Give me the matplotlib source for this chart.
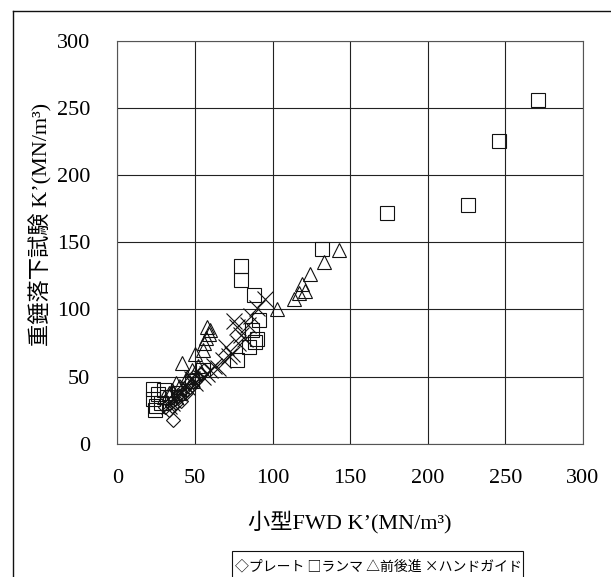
import matplotlib
matplotlib.use("Agg")
import matplotlib.pyplot as plt
from matplotlib.lines import Line2D
from matplotlib.patches import Rectangle

# data (MN/m3)
plate_x = [36, 33, 31, 35, 38, 37, 34, 40, 41, 42, 39, 44, 43, 45, 46, 47, 48, 49, 50, 52, 54, 56]
plate_y = [18, 25, 27, 28, 30, 33, 30, 35, 32, 37, 36, 38, 41, 40, 45, 42, 44, 50, 47, 49, 52, 55]

rammer_x = [24, 23, 23, 25, 26, 30, 32, 28, 40, 48, 55, 77, 85, 90, 87, 89, 91, 88, 80, 80, 132, 174, 226, 246, 271]
rammer_y = [25, 33, 41, 28, 37, 40, 35, 30, 38, 47, 55, 62, 72, 78, 85, 76, 92, 111, 122, 132, 145, 172, 178, 225, 256]

fwd_x = [30, 33, 35, 38, 40, 42, 45, 48, 50, 52, 55, 56, 57, 58, 60, 59, 103, 114, 117, 121, 119, 124, 133, 143]
fwd_y = [35, 38, 40, 45, 42, 60, 50, 55, 67, 58, 70, 75, 79, 87, 85, 82, 100, 108, 112, 114, 119, 126, 135, 144]

hand_x = [33, 35, 38, 40, 45, 48, 50, 55, 58, 60, 62, 65, 68, 70, 72, 74, 78, 80, 82, 75, 77, 84, 86, 90, 95]
hand_y = [28, 30, 35, 38, 42, 48, 45, 50, 52, 55, 58, 56, 62, 72, 65, 67, 75, 81, 78, 91, 87, 88, 95, 101, 108]

ticks = [0, 50, 100, 150, 200, 250, 300]

W, H = 611, 577
plt.rcParams["font.family"] = ["Liberation Serif", "Noto Sans CJK JP"]

fig = plt.figure(figsize=(W / 100, H / 100), dpi=100)
ax = fig.add_axes([117.3 / W, 1 - 443.7 / H, (583 - 117.3) / W, (443.7 - 40.7) / H])

mk = dict(linestyle="none", mfc="none", mec="#111111", mew=0.8)
ax.plot(plate_x, plate_y, marker="D", ms=7.5, **mk)
ax.plot(rammer_x, rammer_y, marker="s", ms=10, **mk)
ax.plot(fwd_x, fwd_y, marker="^", ms=10, **mk)
ax.plot(hand_x, hand_y, marker="x", ms=11, **mk)

ax.set_xlim(0, 300)
ax.set_ylim(0, 300)
ax.set_xticks(ticks)
ax.set_yticks(ticks)
ax.grid(color="#222222", linewidth=0.8)
ax.set_axisbelow(True)
ax.tick_params(length=0, labelsize=16)
ax.tick_params(axis="x", pad=18)
ax.tick_params(axis="y", pad=19.5)
for s in ax.spines.values():
    s.set_color("#555555")
    s.set_linewidth(0.8)

fig.text(350 / W, 1 - 522.5 / H, "小型FWD K’(MN/m³)", ha="center", va="center", fontsize=16)
fig.text(41 / W, 1 - 224 / H, "重錘落下試験 K’(MN/m³)", ha="center", va="center",
         rotation=90, fontsize=16)

# legend box (text only, cut by the bottom edge)
fig.patches.append(Rectangle((232 / W, 1 - 590 / H), (523 - 232) / W, 39 / H,
                             transform=fig.transFigure, fill=False, ec="#111111", lw=0.8))
fig.text(378 / W, 1 - 566 / H, "◇プレート □ランマ △前後進 ×ハンドガイド",
         ha="center", va="center", fontsize=10, family=["Noto Sans CJK JP"])

# outer chart frame
fig.add_artist(Line2D([13 / W, 1], [1 - 11 / H, 1 - 11 / H], color="#111111", lw=1))
fig.add_artist(Line2D([13 / W, 13 / W], [0, 1 - 11 / H], color="#111111", lw=1))

fig.savefig("out.png", dpi=100)
